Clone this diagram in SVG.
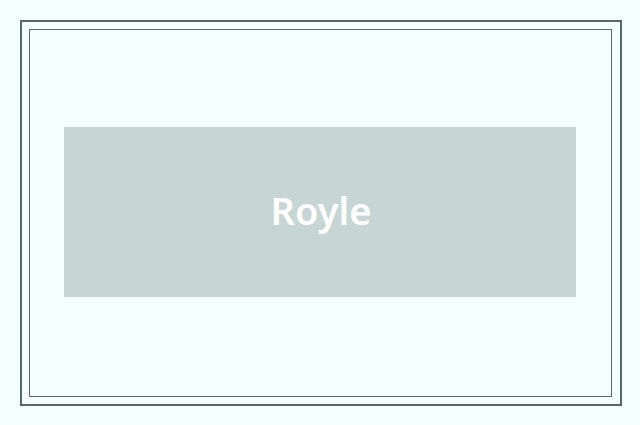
<svg xmlns="http://www.w3.org/2000/svg" width="640" height="425" viewBox="0 0 640 425">
<style>
.frame{fill:none;stroke:#586868}
.label{font-family:"Noto Sans","Open Sans",sans-serif;font-weight:600;font-size:38px;fill:#ffffff;text-anchor:middle}
</style>
<rect width="640" height="425" fill="#f3ffff"/>
<g id="frame">
<rect class="frame" x="21" y="21" width="600" height="384" stroke-width="2"/>
<rect class="frame" x="29.5" y="29.5" width="582" height="367" stroke-width="1"/>
</g>
<g id="connectors"></g>
<g id="node-royle">
<rect x="64" y="127" width="512" height="170" fill="#c7d5d5"/>
<text class="label" x="321" y="225">Royle</text>
</g>
</svg>
